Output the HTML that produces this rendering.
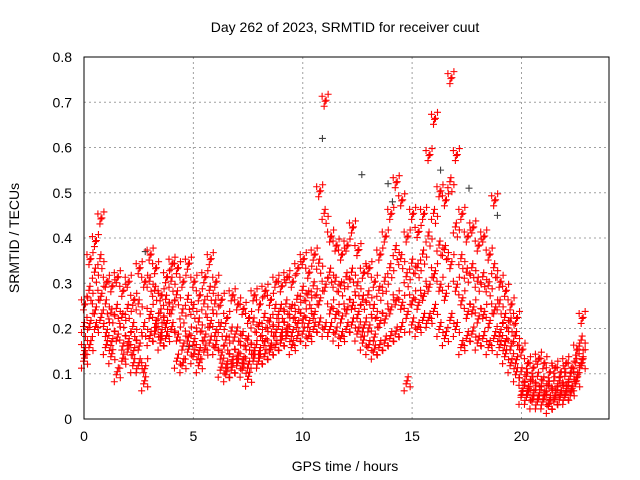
<!DOCTYPE html>
<html><head><meta charset="utf-8"><style>
body{margin:0;background:#fff;}
svg{display:block;font-family:"Liberation Sans",sans-serif;}
</style></head><body>
<svg id="chart" width="640" height="480" viewBox="0 0 640 480">
<rect width="640" height="480" fill="#fff"/>
<text x="345" y="32" font-size="14" text-anchor="middle">Day 262 of 2023, SRMTID for receiver cuut</text>
<text transform="translate(19,238) rotate(-90)" font-size="14" text-anchor="middle">SRMTID / TECUs</text>
<text x="345" y="471" font-size="14" text-anchor="middle">GPS time / hours</text>
<g id="grid"></g><g id="marks"></g>
<rect x="84" y="57" width="525" height="362" fill="none" stroke="#000" stroke-width="1"/>
</svg>
<script>
const xTicks=[0,5,10,15,20];
const yTicks=[0,0.1,0.2,0.3,0.4,0.5,0.6,0.7,0.8];
const yTickLabels=["0","0.1","0.2","0.3","0.4","0.5","0.6","0.7","0.8"];
const tStart=0, tStep=0.25;
const vHigh=[.25,.35,.39,.44,.30,.29,.31,.28,.30,.26,.33,.30,.36,.33,.27,.31,.34,.33,.30,.34,.30,.27,.31,.35,.30,.26,.22,.27,.25,.24,.22,.27,.25,.28,.26,.30,.29,.31,.30,.33,.35,.32,.36,.50,.70,.40,.38,.36,.38,.42,.37,.32,.33,.30,.36,.40,.45,.52,.48,.40,.45,.41,.45,.58,.66,.50,.48,.75,.58,.45,.40,.42,.38,.40,.36,.48,.30,.28,.25,.22,.15,.12,.11,.13,.12,.10,.11,.10,.12,.11,.15,.22];
const vMid1=[.20,.28,.32,.35,.25,.23,.24,.22,.24,.20,.25,.20,.30,.28,.23,.26,.30,.27,.23,.26,.24,.21,.25,.28,.25,.20,.17,.19,.19,.18,.17,.21,.20,.22,.21,.24,.24,.25,.24,.26,.28,.27,.29,.34,.45,.32,.30,.29,.31,.32,.29,.26,.27,.24,.28,.30,.33,.37,.35,.31,.34,.33,.36,.40,.45,.38,.37,.52,.42,.35,.32,.33,.30,.31,.29,.33,.25,.22,.21,.18,.10,.09,.08,.09,.08,.07,.08,.08,.09,.09,.12,.17];
const vMid2=[.16,.22,.25,.28,.20,.18,.19,.17,.18,.16,.17,.12,.24,.22,.20,.22,.25,.19,.17,.19,.18,.16,.19,.22,.20,.15,.13,.14,.15,.14,.13,.16,.16,.18,.17,.20,.20,.21,.20,.22,.23,.22,.24,.27,.30,.25,.24,.23,.25,.26,.24,.21,.21,.19,.22,.23,.25,.27,.26,.24,.27,.26,.28,.30,.33,.30,.28,.35,.30,.27,.24,.25,.23,.24,.22,.25,.20,.18,.17,.14,.07,.07,.06,.06,.06,.05,.06,.06,.07,.07,.10,.14];
const vLow=[.13,.16,.20,.22,.16,.14,.10,.13,.15,.12,.12,.08,.18,.19,.17,.18,.20,.13,.12,.15,.14,.12,.15,.17,.16,.11,.10,.11,.12,.11,.09,.13,.13,.14,.15,.16,.17,.18,.16,.18,.19,.18,.20,.21,.20,.20,.19,.18,.20,.21,.19,.17,.16,.15,.16,.17,.18,.19,.20,.08,.21,.20,.22,.22,.24,.20,.18,.22,.20,.16,.18,.19,.17,.18,.16,.18,.16,.14,.12,.10,.05,.05,.04,.04,.04,.03,.04,.05,.05,.06,.08,.12];
const grayT=[10.9,12.7,13.9,14.1,16.3,17.6,18.9,2.8,4.8];
const grayV=[.62,.54,.52,.48,.55,.51,.45,.37,.16];
const X0=84,X1=609,Y0=419,Y1=57,XMAX=24,YMAX=0.8;
const sx=t=>X0+(X1-X0)*t/XMAX, sy=v=>Y0-(Y0-Y1)*v/YMAX;
const NS="http://www.w3.org/2000/svg";
const grid=document.getElementById('grid'), marks=document.getElementById('marks');
function mk(tag,attrs,parent){const e=document.createElementNS(NS,tag);for(const k in attrs)e.setAttribute(k,attrs[k]);parent.appendChild(e);return e;}
yTicks.forEach((v,i)=>{
 const y=sy(v);
 if(i>0&&i<yTicks.length-1){const g=mk('line',{x1:X0,x2:X1,y1:y,y2:y,stroke:'#a0a0a0','stroke-dasharray':'2,3'},grid);
 
 }
 const t=mk('text',{x:X0-12,y:y+5,'font-size':14,'text-anchor':'end'},grid);t.textContent=yTickLabels[i];
 
 
});
xTicks.forEach(v=>{
 const x=sx(v);
 if(v>0){const g=mk('line',{x1:x,x2:x,y1:Y0,y2:Y1,stroke:'#a0a0a0','stroke-dasharray':'2,3'},grid);
 
 }
 const t=mk('text',{x:x,y:Y0+22,'font-size':14,'text-anchor':'middle'},grid);t.textContent=v;
 
 
});
function plus(x,y,c,name){
 const p=mk('path',{d:`M${x-3.5},${y}h7M${x},${y-3.5}v7`,stroke:c,'stroke-width':1.1,fill:'none'},marks);
 
 
}
grayT.forEach((t,i)=>plus(sx(t),sy(grayV[i]),'#404040','gray-point'));
const jx=[-2.5,-0.5,1.5,3.5,0.5], jy=[-6,4,-2,8,1];
[vHigh,vMid1,vMid2,vLow].forEach((arr,k)=>{
 arr.forEach((v,i)=>{
  const t=tStart+i*tStep;
  for(let j=0;j<5;j++){
   plus(sx(t)+jx[(j+k)%5],sy(v)+jy[(j+2*k)%5]*(k===0&&j>2?-1:1),'#ff0000','srmtid-point');
  }
 });
});
</script>
</body></html>
